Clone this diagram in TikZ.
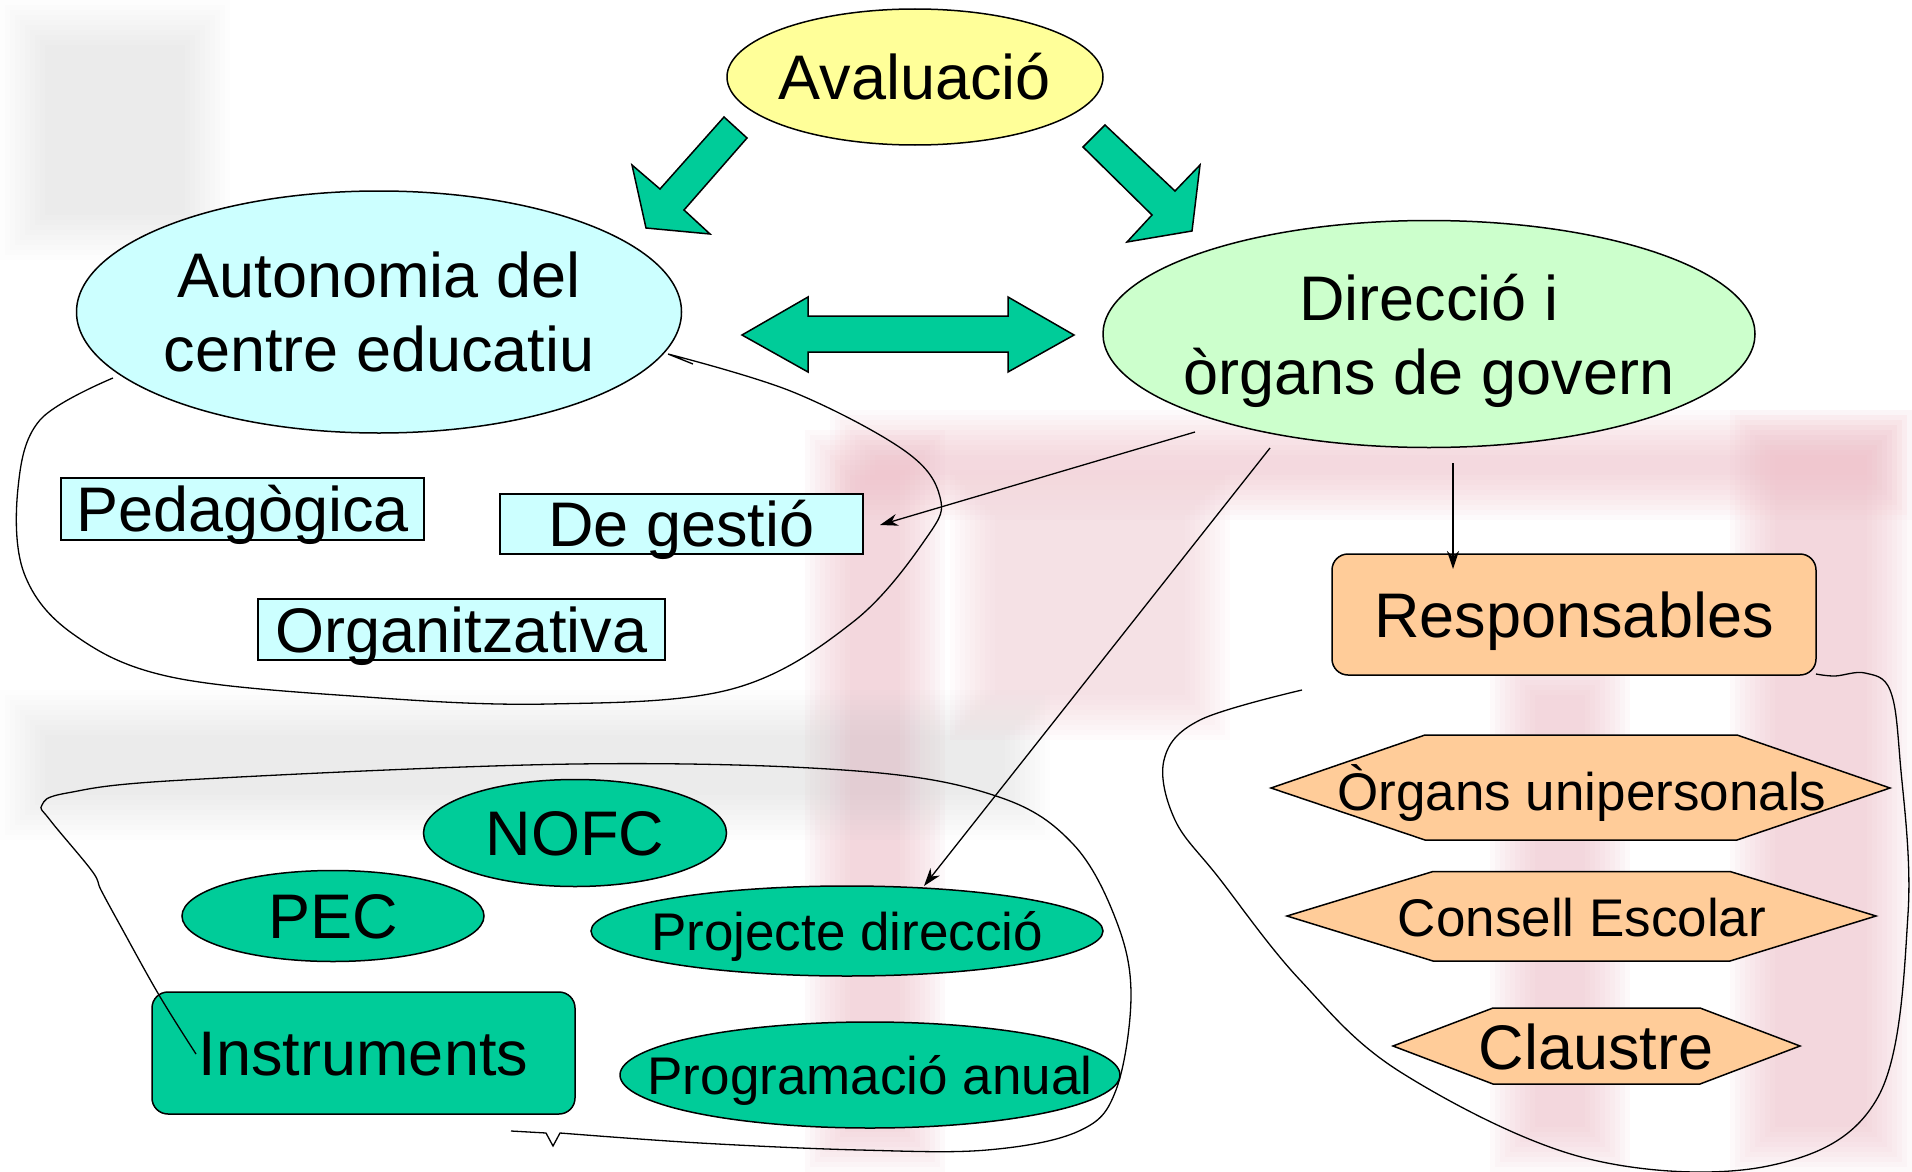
\documentclass[tikz,border=0pt]{standalone}
\usepackage{fontspec}
\setmainfont{Liberation Sans}
\usetikzlibrary{arrows.meta,shapes.geometric}
\definecolor{avcol}{HTML}{FFFF99}
\definecolor{aucol}{HTML}{CCFFFF}
\definecolor{dicol}{HTML}{CCFFCC}
\definecolor{grcol}{HTML}{00CC99}
\definecolor{pecol}{HTML}{FFCC99}
\definecolor{pinkbg}{RGB}{240,190,200}
\definecolor{graybg}{RGB}{200,200,200}
\newcommand\softbox[6]{\foreach \k in {0,...,9}{\fill[#5, opacity=#6] (#1+\k*5,#2+\k*5) rectangle (#3-\k*5,#4-\k*5);}}
\begin{document}
\begin{tikzpicture}[x=1pt,y=-1pt,
  big/.style={font=\fontsize{63}{74}\selectfont},
  mid/.style={font=\fontsize{53}{62}\selectfont},
  one/.style={text height=45pt,text depth=0pt},
  onem/.style={text height=38pt,text depth=0pt},
  ell/.style={ellipse,draw,line width=1.5pt,inner ysep=0pt,inner xsep=-80pt},
  tbox/.style={rectangle,draw,line width=1.5pt,inner sep=0pt,fill=aucol},
  rbox/.style={rectangle,draw,line width=1.5pt,inner sep=0pt,rounded corners=16pt},
  barrow/.style={fill=grcol,draw,line width=1.5pt,line join=miter},
  hexa/.style={fill=pecol,draw,line width=1.5pt},
  conn/.style={line width=1.3pt,-{Stealth[length=18pt,width=12pt]}},
  loopc/.style={line width=1.3pt}]
\useasboundingbox (0,0) rectangle (1912,1172);
\fill[white] (0,0) rectangle (1912,1172);
% faint background watermark
\softbox{830}{410}{1912}{520}{pinkbg}{0.07}
\softbox{1730}{410}{1912}{1172}{pinkbg}{0.08}
\softbox{1490}{650}{1630}{1172}{pinkbg}{0.08}
\softbox{805}{430}{945}{1172}{pinkbg}{0.08}
\softbox{950}{470}{1230}{740}{pinkbg}{0.05}
\softbox{0}{0}{230}{260}{graybg}{0.03}
\softbox{0}{690}{1050}{840}{graybg}{0.03}
% main nodes
\node[ell,fill=avcol,minimum width=376pt,minimum height=136pt,big,one] (aval) at (915,77) {Avaluació};
\node[ell,fill=aucol,minimum width=605pt,minimum height=242pt,big,align=center] (auto) at (379,312) {Autonomia del\\centre educatiu};
\node[ell,fill=dicol,minimum width=652pt,minimum height=227pt,big,align=center,text depth=0pt] (dir) at (1429,334) {Direcció i\\òrgans de govern};
% block arrows
\filldraw[barrow] (724,117) -- (747,138) -- (684,210) -- (710,234) -- (646,228) -- (632,165) -- (660,189) -- cycle;
\filldraw[barrow] (1105,125) -- (1175,191) -- (1200,165) -- (1192,231) -- (1127,242) -- (1152,215) -- (1083,147) -- cycle;
\filldraw[barrow] (742,335) -- (808,297) -- (808,316) -- (1008,316) -- (1008,297) -- (1074,335) -- (1008,372) -- (1008,352) -- (808,352) -- (808,372) -- cycle;
% autonomy types
\node[tbox,minimum width=363pt,minimum height=62pt,big,one] (ped) at (242.5,509) {Pedagògica};
\node[tbox,minimum width=363pt,minimum height=60pt,big,one] (gest) at (681.5,524) {De gestió};
\node[tbox,minimum width=407pt,minimum height=61pt,big,one] (org) at (461.5,629.5) {Organitzativa};
% instruments
\node[ell,fill=grcol,minimum width=303pt,minimum height=107pt,big,one] (nofc) at (575,833) {NOFC};
\node[ell,fill=grcol,minimum width=302pt,minimum height=91pt,big,one] (pec) at (333,916) {PEC};
\node[ell,fill=grcol,minimum width=512pt,minimum height=90pt,mid,onem] (proj) at (847,931) {Projecte direcció};
\node[ell,fill=grcol,minimum width=500pt,minimum height=106pt,mid,onem] (prog) at (870,1075) {Programació anual};
\node[rbox,fill=grcol,minimum width=423pt,minimum height=122pt,big,one] (inst) at (363.5,1053) {Instruments};
% responsables
\node[rbox,fill=pecol,minimum width=484pt,minimum height=121pt,big,one] (resp) at (1574,614.5) {Responsables};
\filldraw[hexa] (1271,788) -- (1425,735) -- (1737,735) -- (1890,788) -- (1737,840) -- (1425,840) -- cycle;
\node[mid,onem] (uni) at (1582,791) {Òrgans unipersonals};
\filldraw[hexa] (1287,916) -- (1433,871.5) -- (1730,871.5) -- (1876,916) -- (1730,961) -- (1433,961) -- cycle;
\node[mid,onem] (cons) at (1582,917) {Consell Escolar};
\filldraw[hexa] (1393,1046) -- (1493,1008) -- (1700,1008) -- (1800,1046) -- (1700,1084) -- (1493,1084) -- cycle;
\node[big,one] (cla) at (1596,1047) {Claustre};
% connectors
\coordinate (s1) at (1195,432);
\coordinate (e1) at (880,525);
\coordinate (s2) at (1270,448);
\coordinate (e2) at (924,886);
\coordinate (s3) at (1453,463);
\coordinate (e3) at (1453,569);
\draw[conn] (s1) -- (e1);
\draw[conn] (s2) -- (e2);
\draw[conn] (s3) -- (e3);
% grouping curves
\draw[loopc] plot[smooth,tension=0.6] coordinates {(113,378) (40,420) (18,488) (24,573) (73,634) (171,677) (366,697) (549,704) (732,689) (853,622) (927,537) (940,497) (905,451) (793,392) (668,354)} -- (693,364);
\draw[loopc] plot[smooth,tension=0.6] coordinates {(196,1054) (159,995) (120,925) (101,890) (92,871) (50,820) (42,805) (67,793) (184,780) (575,764) (857,771) (999,797) (1073,844) (1116,920) (1131,995) (1116,1090) (1079,1131) (987,1150) (860,1150) (700,1143) (560,1133)} -- (553,1146) -- (546,1133) -- (511,1131);
\draw[loopc] plot[smooth,tension=0.6] coordinates {(1302,690) (1200,720) (1164,760) (1175,820) (1219,878) (1300,980) (1402,1073) (1585,1158) (1768,1166) (1878,1097) (1908,914) (1900,760) (1890,690) (1865,673) (1835,676) (1816,674)};
\end{tikzpicture}
\end{document}
